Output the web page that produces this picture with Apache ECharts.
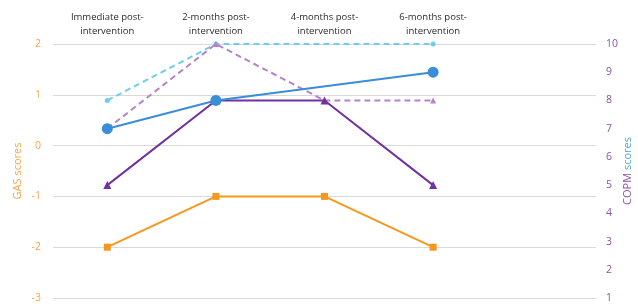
<!DOCTYPE html>
<html><head><meta charset="utf-8">
<script src="https://cdn.jsdelivr.net/npm/echarts@6/dist/echarts.min.js"></script>
<style>html,body{margin:0;padding:0;background:#fff}#c{width:638px;height:304px}</style>
</head><body><div id="c"></div>
<script>
const categories = ['Immediate post-\nintervention', '2-months post-\nintervention', '4-months post-\nintervention', '6-months post-\nintervention', ''];
const gasTicks = [-3, -2, -1, 0, 1, 2];
const copmTicks = [1, 2, 3, 4, 5, 6, 7, 8, 9, 10];
const gas = [-2, -1, -1, -2];
const copmPerfBlue = [7, 8, null, 9];
const copmSatBlue = [8, 10, 10, 10];
const copmPerfPurple = [5, 8, 8, 5];
const copmSatPurple = [7, 10, 8, 8];

const orange = '#F7971E', blue = '#3A8DD8', lblue = '#6FCDF4', purple = '#7131A1', lpurple = '#B482CB';
const font = 'Open Sans';
const chart = echarts.init(document.getElementById('c'));
chart.setOption({
  animation: false,
  textStyle: {fontFamily: font},
  grid: {left: 53, right: 42, top: 44, bottom: 6, containLabel: false, outerBoundsMode: 'none'},
  xAxis: {
    type: 'category', position: 'top', data: categories, boundaryGap: true,
    axisLine: {show: false}, axisTick: {show: false},
    axisLabel: {color: '#2b2b2b', fontSize: 9.5, lineHeight: 14, margin: 6, interval: 0, fontFamily: font}
  },
  yAxis: [{
    type: 'value', min: gasTicks[0], max: gasTicks[gasTicks.length - 1], interval: 1,
    axisLine: {show: false}, axisTick: {show: false},
    axisLabel: {color: '#F7A64A', fontSize: 10.5, margin: 12, fontFamily: font},
    splitLine: {lineStyle: {color: '#d9d9d9', width: 1}},
    name: 'GAS scores', nameLocation: 'middle', nameGap: 30, nameRotate: 90, nameMoveOverlap: false,
    nameTextStyle: {color: '#F7A64A', fontSize: 11, fontFamily: font}
  }, {
    type: 'value', min: copmTicks[0], max: copmTicks[copmTicks.length - 1], interval: 1,
    axisLine: {show: false}, axisTick: {show: false},
    axisLabel: {color: '#8B55A8', fontSize: 10.5, margin: 10, fontFamily: font},
    splitLine: {show: false},
    name: '{a|COPM} {b|scores}', nameLocation: 'middle', nameGap: 26, nameRotate: 90, nameMoveOverlap: false,
    nameTextStyle: {fontSize: 11, fontFamily: font, rich: {a: {color: '#8B55A8', fontSize: 11, fontFamily: font}, b: {color: '#4FA8E0', fontSize: 11, fontFamily: font}}}
  }],
  series: [
    {type: 'line', yAxisIndex: 1, data: copmSatBlue, symbol: (v, p) => (p.dataIndex === 2 ? 'none' : 'circle'), symbolSize: 5,
      lineStyle: {color: lblue, width: 2, type: [6, 4]}, itemStyle: {color: lblue}},
    {type: 'line', yAxisIndex: 1, data: copmSatPurple, symbol: 'triangle', symbolSize: 6,
      lineStyle: {color: lpurple, width: 2, type: [6, 4]}, itemStyle: {color: lpurple}},
    {type: 'line', yAxisIndex: 1, data: copmPerfPurple, symbol: 'triangle', symbolSize: 8,
      lineStyle: {color: purple, width: 2}, itemStyle: {color: purple}},
    {type: 'line', yAxisIndex: 1, data: copmPerfBlue, connectNulls: true, symbol: 'circle', symbolSize: 11,
      lineStyle: {color: blue, width: 2}, itemStyle: {color: blue}},
    {type: 'line', yAxisIndex: 0, data: gas, symbol: 'rect', symbolSize: 7,
      lineStyle: {color: orange, width: 2}, itemStyle: {color: orange}}
  ]
});
</script></body></html>
